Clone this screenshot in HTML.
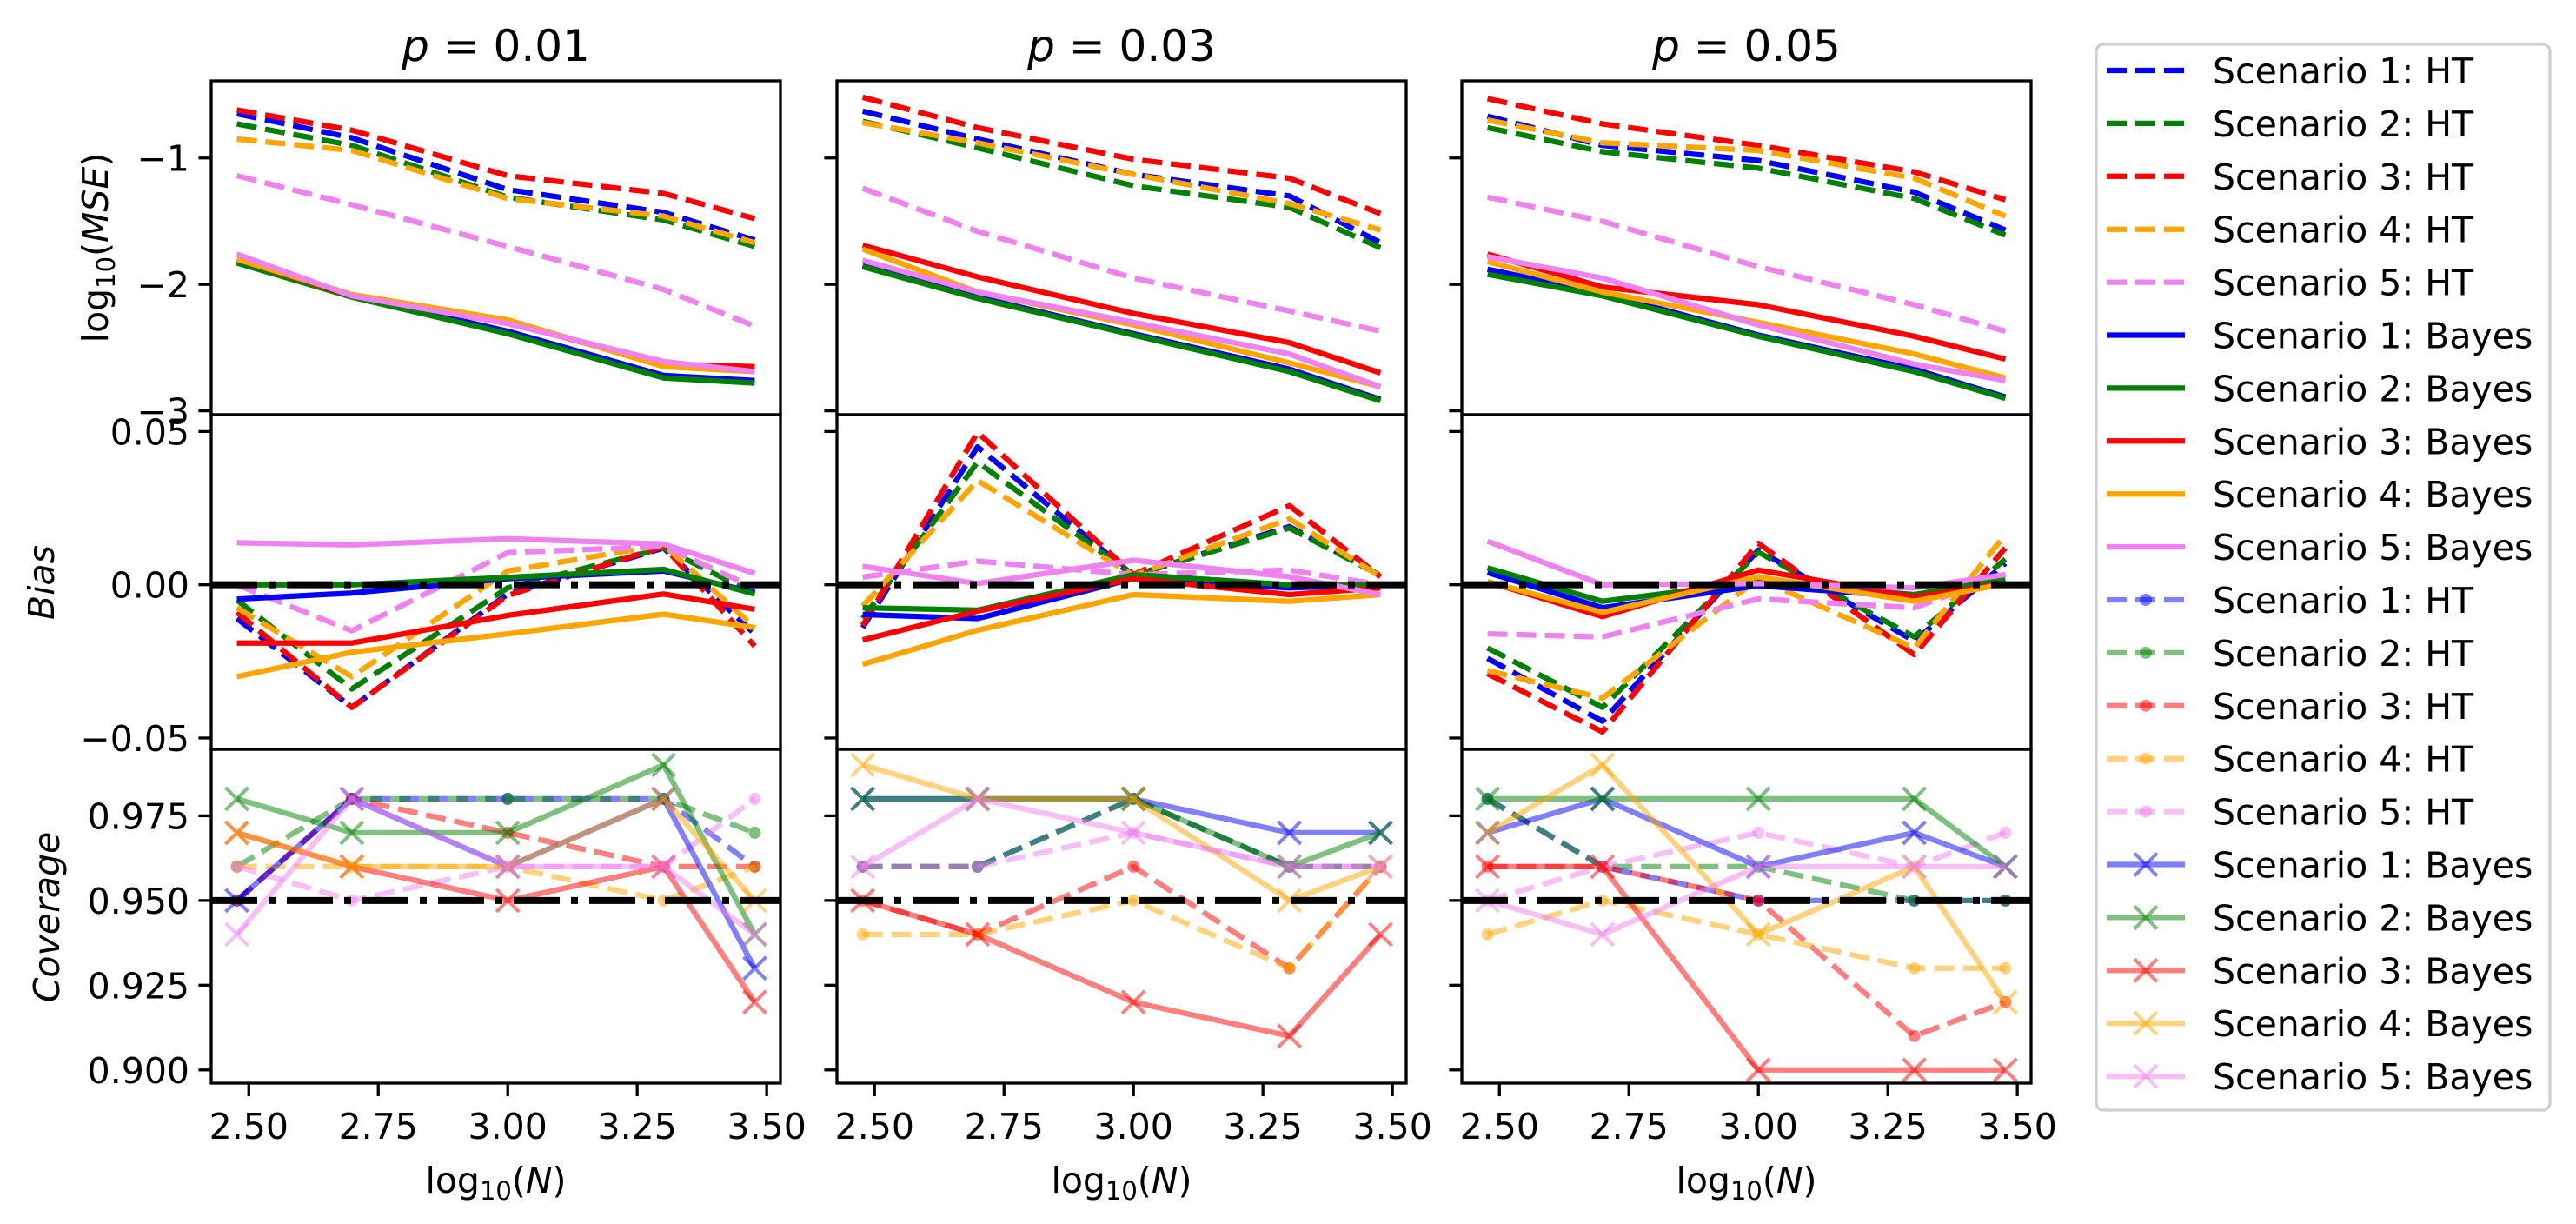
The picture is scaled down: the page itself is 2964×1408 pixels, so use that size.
<!DOCTYPE html>
<html><head><meta charset="utf-8"><style>
html,body{margin:0;padding:0;background:#fff}
svg{display:block;font-family:"DejaVu Sans","Liberation Sans",sans-serif}
</style></head><body>
<svg id="fig" width="2964" height="1408" viewBox="0 0 2964 1408" xmlns="http://www.w3.org/2000/svg"></svg>
<script>
// ---- data ----
const xVals = [2.477, 2.699, 3.0, 3.301, 3.477];
const pTitles = ["0.01", "0.03", "0.05"];
const colors = ["blue", "green", "red", "orange", "violet"];
const xTickLabels = ["2.50", "2.75", "3.00", "3.25", "3.50"];
const xTicks = [2.5, 2.75, 3.0, 3.25, 3.5];
const mseTicks = [-1, -2, -3];
const mseTickLabels = ["\u22121", "\u22122", "\u22123"];
const biasTicks = [0.05, 0, -0.05];
const biasTickLabels = ["0.05", "0.00", "\u22120.05"];
const covTicks = [0.975, 0.95, 0.925, 0.9];
const covTickLabels = ["0.975", "0.950", "0.925", "0.900"];

// MSE [panel][scenario]
const mseHT = [
 [[-0.65,-0.84,-1.25,-1.43,-1.65],[-0.73,-0.90,-1.31,-1.49,-1.70],[-0.62,-0.78,-1.14,-1.28,-1.48],[-0.85,-0.94,-1.32,-1.46,-1.67],[-1.14,-1.37,-1.70,-2.04,-2.33]],
 [[-0.63,-0.85,-1.13,-1.30,-1.67],[-0.71,-0.92,-1.22,-1.39,-1.71],[-0.52,-0.76,-1.01,-1.16,-1.44],[-0.72,-0.88,-1.13,-1.36,-1.57],[-1.24,-1.58,-1.95,-2.21,-2.37]],
 [[-0.67,-0.90,-1.02,-1.27,-1.57],[-0.76,-0.95,-1.08,-1.32,-1.61],[-0.53,-0.73,-0.90,-1.11,-1.33],[-0.70,-0.88,-0.94,-1.16,-1.46],[-1.31,-1.50,-1.86,-2.16,-2.37]]
];
const mseBayes = [
 [[-1.81,-2.09,-2.37,-2.72,-2.76],[-1.83,-2.10,-2.39,-2.74,-2.78],[-1.80,-2.09,-2.30,-2.63,-2.65],[-1.80,-2.08,-2.28,-2.65,-2.69],[-1.76,-2.09,-2.31,-2.61,-2.69]],
 [[-1.85,-2.10,-2.39,-2.67,-2.91],[-1.86,-2.11,-2.40,-2.69,-2.92],[-1.69,-1.94,-2.23,-2.46,-2.70],[-1.72,-2.06,-2.32,-2.62,-2.81],[-1.81,-2.06,-2.30,-2.55,-2.81]],
 [[-1.88,-2.07,-2.40,-2.67,-2.89],[-1.92,-2.09,-2.41,-2.69,-2.90],[-1.76,-2.02,-2.16,-2.41,-2.59],[-1.82,-2.06,-2.30,-2.55,-2.74],[-1.78,-1.95,-2.32,-2.63,-2.76]]
];
const biasHT = [
 [[-0.011,-0.040,-0.003,0.012,-0.016],[-0.005,-0.034,-0.001,0.012,-0.003],[-0.009,-0.040,-0.0035,0.0125,-0.020],[-0.0075,-0.030,0.0045,0.013,-0.014],[0.0,-0.015,0.0105,0.0125,-0.001]],
 [[-0.014,0.045,0.003,0.019,0.003],[-0.011,0.040,0.003,0.0185,0.003],[-0.0133,0.0497,0.0033,0.0258,0.0026],[-0.007,0.034,0.003,0.0215,0.0026],[0.0025,0.0077,0.0033,0.0048,0.0]],
 [[-0.024,-0.0445,0.0113,-0.0184,0.007],[-0.0206,-0.040,0.0106,-0.017,0.0084],[-0.029,-0.048,0.0135,-0.0228,0.012],[-0.028,-0.037,0.002,-0.0206,0.0164],[-0.016,-0.017,-0.0046,-0.0075,0.0033]]
];
const biasBayes = [
 [[-0.0047,-0.0027,0.002,0.0045,-0.0025],[0.0,0.0,0.0024,0.005,-0.003],[-0.019,-0.019,-0.010,-0.003,-0.008],[-0.030,-0.022,-0.016,-0.0096,-0.014],[0.0137,0.013,0.015,0.0133,0.0037]],
 [[-0.0097,-0.011,0.002,-0.001,0.0],[-0.0075,-0.0083,0.0033,0.0,0.0],[-0.018,-0.0086,0.002,-0.0032,-0.001],[-0.026,-0.0148,-0.0032,-0.0054,-0.0032],[0.006,0.0004,0.008,0.0026,-0.0032]],
 [[0.004,-0.0075,-0.0003,-0.004,0.001],[0.0055,-0.0054,0.001,-0.0032,0.0019],[0.001,-0.0104,0.0048,-0.004,0.0004],[0.001,-0.009,0.0026,-0.0054,0.0004],[0.0142,0.0,0.0004,-0.001,0.0033]]
];
const covHT = [
 [[0.95,0.98,0.98,0.98,0.96],[0.96,0.98,0.98,0.98,0.97],[0.95,0.98,0.97,0.96,0.96],[0.96,0.96,0.96,0.95,0.96],[0.96,0.95,0.96,0.96,0.98]],
 [[0.96,0.96,0.98,0.96,0.96],[0.96,0.96,0.98,0.96,0.96],[0.95,0.94,0.96,0.93,0.96],[0.94,0.94,0.95,0.93,0.96],[0.96,0.96,0.97,0.96,0.96]],
 [[0.98,0.96,0.95,0.95,0.95],[0.98,0.96,0.96,0.95,0.95],[0.96,0.96,0.95,0.91,0.92],[0.94,0.95,0.94,0.93,0.93],[0.95,0.96,0.97,0.96,0.97]]
];
const covBayes = [
 [[0.95,0.98,0.96,0.98,0.93],[0.98,0.97,0.97,0.99,0.94],[0.97,0.96,0.95,0.96,0.92],[0.97,0.96,0.96,0.98,0.95],[0.94,0.98,0.96,0.96,0.94]],
 [[0.98,0.98,0.98,0.97,0.97],[0.98,0.98,0.98,0.96,0.97],[0.95,0.94,0.92,0.91,0.94],[0.99,0.98,0.98,0.95,0.96],[0.96,0.98,0.97,0.96,0.96]],
 [[0.97,0.98,0.96,0.97,0.96],[0.98,0.98,0.98,0.98,0.96],[0.96,0.96,0.90,0.90,0.90],[0.97,0.99,0.94,0.96,0.92],[0.95,0.94,0.96,0.96,0.96]]
];

// ---- layout ----
const NS = "http://www.w3.org/2000/svg";
const svg = document.getElementById("fig");
const panelLeft = [243, 963, 1682];
const panelW = 655;
const rowTop = [93, 477, 862];
const rowBot = [477, 862, 1246];
const xMin = 2.4274, xMax = 3.5266;
const yRanges = [[-0.39, -3.03], [0.0555, -0.0537], [0.9946, 0.8961]];
function mk(tag, attrs, parent) {
  const e = document.createElementNS(NS, tag);
  for (const k in attrs) e.setAttribute(k, attrs[k]);
  (parent || svg).appendChild(e);
  return e;
}
function xs(p, v) { return panelLeft[p] + (v - xMin) / (xMax - xMin) * panelW; }
function ys(r, v) { const [t, b] = yRanges[r]; return rowTop[r] + (t - v) / (t - b) * (rowBot[r] - rowTop[r]); }

function series(p, r, vals, color, opts, name) {
  const g = mk("g", {});
  
  
  const pts = vals.map((v, i) => xs(p, xVals[i]).toFixed(1) + "," + ys(r, v).toFixed(1)).join(" ");
  const pl = mk("polyline", { points: pts, fill: "none", stroke: color, "stroke-width": 6.25, "stroke-opacity": opts.alpha || 1, "stroke-linejoin": "round" }, g);
  if (opts.dash) pl.setAttribute("stroke-dasharray", "23 10");
  vals.forEach((v, i) => {
    const cx = xs(p, xVals[i]), cy = ys(r, v);
    if (opts.marker === "o") mk("circle", { cx, cy, r: 7, fill: color, "fill-opacity": opts.alpha || 1 }, g);
    if (opts.marker === "x") {
      const s = 13;
      mk("path", { d: `M${cx - s},${cy - s}L${cx + s},${cy + s}M${cx - s},${cy + s}L${cx + s},${cy - s}`, stroke: color, "stroke-width": 4, "stroke-opacity": opts.alpha || 1 }, g);
    }
  });
}
function refLine(p, r, v) {
  const l = mk("line", { x1: panelLeft[p], x2: panelLeft[p] + panelW, y1: ys(r, v), y2: ys(r, v), stroke: "#000", "stroke-width": 8, "stroke-dasharray": "53 13 8 13" });
  
  
}

for (let p = 0; p < 3; p++) {
  // title
  const t = mk("text", { x: panelLeft[p] + panelW / 2, y: 70, "text-anchor": "middle", "font-size": 50 });
  
  
  t.innerHTML = '<tspan font-style="italic">p</tspan> = ' + pTitles[p];
  for (let r = 0; r < 3; r++) {
    if (r === 0) {
      for (let s = 0; s < 5; s++) series(p, r, mseHT[p][s], colors[s], { dash: true }, "mse-ht-s" + (s + 1));
      for (let s = 0; s < 5; s++) series(p, r, mseBayes[p][s], colors[s], {}, "mse-bayes-s" + (s + 1));
    } else if (r === 1) {
      for (let s = 0; s < 5; s++) series(p, r, biasHT[p][s], colors[s], { dash: true }, "bias-ht-s" + (s + 1));
      for (let s = 0; s < 5; s++) series(p, r, biasBayes[p][s], colors[s], {}, "bias-bayes-s" + (s + 1));
      refLine(p, r, 0);
    } else {
      for (let s = 0; s < 5; s++) series(p, r, covHT[p][s], colors[s], { dash: true, marker: "o", alpha: 0.5 }, "coverage-ht-s" + (s + 1));
      for (let s = 0; s < 5; s++) series(p, r, covBayes[p][s], colors[s], { marker: "x", alpha: 0.5 }, "coverage-bayes-s" + (s + 1));
      refLine(p, r, 0.95);
    }
    const fr = mk("rect", { x: panelLeft[p], y: rowTop[r], width: panelW, height: rowBot[r] - rowTop[r], fill: "none", stroke: "#000", "stroke-width": 3.3 });
    
    
    const ticks = [mseTicks, biasTicks, covTicks][r];
    const labs = [mseTickLabels, biasTickLabels, covTickLabels][r];
    ticks.forEach((tv, i) => {
      const y = ys(r, tv);
      mk("line", { x1: panelLeft[p] - 14.6, x2: panelLeft[p], y1: y, y2: y, stroke: "#000", "stroke-width": 3.3 });
      if (p === 0) {
        const tl = mk("text", { x: panelLeft[p] - 25, y: y + 15, "text-anchor": "end", "font-size": 41 });
        
        
        tl.textContent = labs[i];
      }
    });
  }
  xTicks.forEach((tv, i) => {
    const x = xs(p, tv);
    mk("line", { x1: x, x2: x, y1: 1246, y2: 1261, stroke: "#000", "stroke-width": 3.3 });
    const tl = mk("text", { x, y: 1310, "text-anchor": "middle", "font-size": 41 });
    
    
    tl.textContent = xTickLabels[i];
  });
  const xl = mk("text", { x: panelLeft[p] + panelW / 2, y: 1372, "text-anchor": "middle", "font-size": 41 });
  
  
  xl.innerHTML = 'log<tspan font-size="29" dy="8">10</tspan><tspan dy="-8">(</tspan><tspan font-style="italic">N</tspan>)';
}
// y axis titles
function yTitle(txt, cx, cy, name, html) {
  const t = mk("text", { x: 0, y: 0, "text-anchor": "middle", "font-size": 41, transform: `translate(${cx},${cy}) rotate(-90)` });
  
  
  t.innerHTML = html;
}
yTitle("", 124, 285, "mse-axis-title", 'log<tspan font-size="29" dy="8">10</tspan><tspan dy="-8">(</tspan><tspan font-style="italic">MSE</tspan>)');
yTitle("", 62, 670, "bias-axis-title", '<tspan font-style="italic">Bias</tspan>');
yTitle("", 68, 1055, "coverage-axis-title", '<tspan font-style="italic">Coverage</tspan>');

// legend
const legLabels = ["Scenario 1: HT","Scenario 2: HT","Scenario 3: HT","Scenario 4: HT","Scenario 5: HT","Scenario 1: Bayes","Scenario 2: Bayes","Scenario 3: Bayes","Scenario 4: Bayes","Scenario 5: Bayes","Scenario 1: HT","Scenario 2: HT","Scenario 3: HT","Scenario 4: HT","Scenario 5: HT","Scenario 1: Bayes","Scenario 2: Bayes","Scenario 3: Bayes","Scenario 4: Bayes","Scenario 5: Bayes"];
const lg = mk("g", {});


mk("rect", { x: 2412, y: 51, width: 522, height: 1226, rx: 8, fill: "#fff", stroke: "#d0d0d0", "stroke-width": 3.3 }, lg);
legLabels.forEach((lab, i) => {
  const y = 81 + i * 60.9;
  const c = colors[i % 5];
  const e = mk("g", {}, lg);
  
  
  const group = Math.floor(i / 5);
  const alpha = group >= 2 ? 0.5 : 1;
  const ln = mk("line", { x1: 2424, x2: 2514, y1: y, y2: y, stroke: c, "stroke-width": 6.25, "stroke-opacity": alpha }, e);
  if (group === 0 || group === 2) ln.setAttribute("stroke-dasharray", "23 10");
  if (group === 2) mk("circle", { cx: 2469, cy: y, r: 7, fill: c, "fill-opacity": alpha }, e);
  if (group === 3) mk("path", { d: `M2456,${y - 13}L2482,${y + 13}M2456,${y + 13}L2482,${y - 13}`, stroke: c, "stroke-width": 4, "stroke-opacity": alpha }, e);
  const t = mk("text", { x: 2546, y: y + 15, "font-size": 41 }, e);
  t.textContent = lab;
});
</script>
</body></html>
